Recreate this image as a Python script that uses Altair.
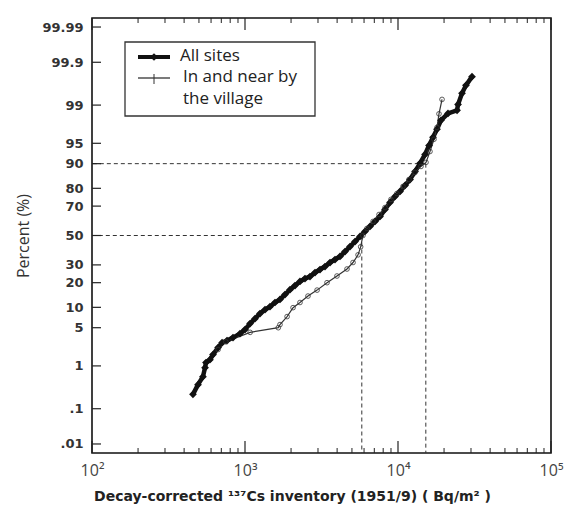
import altair as alt
import pandas as pd
from statistics import NormalDist

nd = NormalDist()

# ---- data ----
all_x = [457, 493, 531, 548, 556, 590, 618, 667, 708, 763, 835, 927, 1000, 1079, 1162,
         1253, 1351, 1456, 1570, 1693, 1825, 1968, 2122, 2287, 2466, 2659, 2868, 3092,
         3334, 3594, 3875, 4178, 4505, 4857, 5237, 5646, 6088, 6563, 7077, 7630, 8226,
         8869, 9563, 10310, 11117, 11986, 12923, 13933, 15022, 15950, 16935, 17983,
         19094, 21218, 24316, 24681, 26200, 27800, 30460]
all_p = [0.23, 0.39, 0.59, 0.92, 1.17, 1.34, 1.68, 2.28, 2.8, 3.04, 3.43, 4.0, 4.66, 5.8,
         6.9, 8.2, 9.3, 10.2, 11.6, 12.7, 14.6, 16.7, 18.6, 20.6, 22.1, 23.2, 25.4, 27.2,
         29.0, 31.5, 33.4, 35.4, 38.7, 42.2, 45.7, 49.3, 52.9, 56.4, 59.9, 63.3, 67.9,
         72.2, 75.7, 78.4, 81.4, 84.1, 87.3, 90.1, 92.6, 94.6, 96.0, 97.1, 98.0, 98.53,
         98.72, 99.03, 99.44, 99.63, 99.77]

vil_x = [667, 750, 1080, 1650, 1693, 1884, 2061, 2287, 2580, 2958, 3436, 3991, 4641,
         5082, 5483, 5700, 5900, 6270, 6870, 7520, 8226, 8995, 9840, 10780, 11800, 12920,
         14130, 15240, 16180, 17180, 17980, 18530, 19400]
vil_p = [2.1, 2.9, 4.2, 5.0, 5.6, 7.4, 9.9, 11.6, 14.0, 16.5, 20.0, 23.5, 27.5, 31.5,
         36.5, 42.0, 50.0, 55.0, 59.9, 64.6, 69.1, 74.0, 77.3, 80.9, 84.1, 87.0, 89.1,
         90.4, 93.3, 95.7, 97.3, 98.5, 99.24]

series_names = ["All sites", "In and near by the village"]
legend_lines = ["All sites", "In and near by", "the village"]

y_tick_pct = [0.01, 0.1, 1, 5, 10, 20, 30, 50, 70, 80, 90, 95, 99, 99.9, 99.99]
y_tick_labels = [".01", ".1", "1", "5", "10", "20", "30", "50", "70", "80", "90", "95",
                 "99", "99.9", "99.99"]
x_tick_vals = [100, 1000, 10000, 100000]
x_tick_labels = ["10\u00b2", "10\u00b3", "10\u2074", "10\u2075"]
x_minor_vals = [m * d for d in (100, 1000, 10000) for m in range(2, 10)]

ref_x = [5800, 15200]
ref_p = [50, 90]

# ---- layout ----
W, H = 459, 435
Y_DOM = [-3.88, 3.88]


def probit(p):
    return nd.inv_cdf(p / 100.0)


df = pd.DataFrame(
    [{"x": x, "p": p, "z": probit(p), "series": series_names[0]} for x, p in zip(all_x, all_p)]
    + [{"x": x, "p": p, "z": probit(p), "series": series_names[1]} for x, p in zip(vil_x, vil_p)]
)

xs = alt.Scale(type="log", domain=[100, 100000], nice=False)
ys = alt.Scale(domain=Y_DOM, nice=False, zero=False)

ylab = "''"
for z, lab in zip([probit(p) for p in y_tick_pct], y_tick_labels):
    ylab = f"abs(datum.value - ({z:.6f})) < 0.001 ? '{lab}' : ({ylab})"
xlab = "''"
for v, lab in zip(x_tick_vals, x_tick_labels):
    xlab = f"datum.value == {v} ? '{lab}' : ({xlab})"

x_axis = alt.Axis(values=x_tick_vals, labelExpr=xlab, ticks=False, domain=False, grid=False,
                  labelFont="Open Sans", labelFontSize=16, labelColor="#444", labelPadding=9,
                  labelFlush=False, labelOverlap=False,
                  title="Decay-corrected \u00b9\u00b3\u2077Cs inventory (1951/9) ( Bq/m\u00b2 )",
                  titleFont="DejaVu Sans", titleFontWeight="bold", titleFontSize=14,
                  titleColor="#222", titleX=200, titleY=36)
y_axis = alt.Axis(values=[probit(p) for p in y_tick_pct], labelExpr=ylab, ticks=False,
                  domain=False, grid=False, labelFont="DejaVu Sans", labelFontWeight="bold",
                  labelFontSize=13, labelColor="#333", labelPadding=9, labelOverlap=False,
                  labelBound=False, labelFlush=False,
                  title="Percent (%)", titleFont="Open Sans", titleFontWeight="normal",
                  titleFontSize=16, titleColor="#333", titlePadding=10)

XN = alt.X("x:Q", scale=xs, axis=x_axis, title=x_axis.title)
YN = alt.Y("z:Q", scale=ys, axis=y_axis, title=y_axis.title)

lines = alt.Chart(df).mark_line().encode(
    x=XN,
    y=YN,
    order="x:Q",
    color=alt.Color("series:N", scale=alt.Scale(domain=series_names, range=["#111", "#333"]),
                    legend=None),
    strokeWidth=alt.StrokeWidth("series:N", scale=alt.Scale(domain=series_names, range=[4.5, 1.2]),
                                legend=None),
)

pts_all = alt.Chart(df[df.series == series_names[0]]).mark_point(
    shape="diamond", filled=True, color="#111", size=60, opacity=1
).encode(x=XN, y=YN)

pts_vil = alt.Chart(df[df.series == series_names[1]]).mark_point(
    shape="circle", filled=False, color="#333", size=22, strokeWidth=0.8, opacity=1
).encode(x=XN, y=YN)

refdf = pd.DataFrame({"x": ref_x, "z": [probit(p) for p in ref_p]})
ref_h = alt.Chart(refdf).mark_rule(strokeDash=[4, 3], color="#333", strokeWidth=1).encode(
    x=XN, x2=alt.value(0), y=YN)
ref_v = alt.Chart(refdf).mark_rule(strokeDash=[4, 3], color="#333", strokeWidth=1).encode(
    x=XN, y=YN, y2=alt.value(H))

ytdf = pd.DataFrame({"z": [probit(p) for p in y_tick_pct]})
yticks = alt.Chart(ytdf).mark_rule(color="#222", strokeWidth=1.2).encode(
    y=YN, x=alt.value(0), x2=alt.value(9))

xmaj = pd.DataFrame({"x": x_tick_vals})
xmin = pd.DataFrame({"x": x_minor_vals})
xt_b_maj = alt.Chart(xmaj).mark_rule(color="#222", strokeWidth=1.2).encode(
    x=XN, y=alt.value(H), y2=alt.value(H - 12))
xt_b_min = alt.Chart(xmin).mark_rule(color="#222", strokeWidth=1).encode(
    x=XN, y=alt.value(H), y2=alt.value(H - 5))
xt_t_maj = alt.Chart(xmaj).mark_rule(color="#222", strokeWidth=1.2).encode(
    x=XN, y=alt.value(0), y2=alt.value(12))
xt_t_min = alt.Chart(xmin).mark_rule(color="#222", strokeWidth=1).encode(
    x=XN, y=alt.value(0), y2=alt.value(5))

# ---- hand-built legend box (pixel placement inside the plot area) ----
legdf = pd.DataFrame({"label": legend_lines})
FS = 17
leg_box = alt.Chart(legdf.head(1)).mark_rect(fill="white", stroke="#333", strokeWidth=1.3).encode(
    x=alt.value(33), x2=alt.value(223), y=alt.value(24), y2=alt.value(98))
leg_l1 = alt.Chart(legdf.head(1)).mark_rule(color="#111", strokeWidth=4).encode(
    x=alt.value(46), x2=alt.value(78), y=alt.value(39))
leg_m1 = alt.Chart(legdf.head(1)).mark_point(shape="diamond", filled=True, color="#111",
                                             size=60, opacity=1).encode(
    x=alt.value(62), y=alt.value(39))
leg_l2 = alt.Chart(legdf.head(1)).mark_rule(color="#333", strokeWidth=1.3).encode(
    x=alt.value(46), x2=alt.value(78), y=alt.value(60))
leg_m2 = alt.Chart(legdf.head(1)).mark_rule(color="#333", strokeWidth=1).encode(
    x=alt.value(62), y=alt.value(56), y2=alt.value(66))
leg_t1 = alt.Chart(legdf.iloc[[0]]).mark_text(align="left", baseline="middle", font="Open Sans",
                                              fontSize=FS, color="#222").encode(
    text="label:N", x=alt.value(88), y=alt.value(38))
leg_t2 = alt.Chart(legdf.iloc[[1]]).mark_text(align="left", baseline="middle", font="Open Sans",
                                              fontSize=FS, color="#222").encode(
    text="label:N", x=alt.value(91), y=alt.value(59))
leg_t3 = alt.Chart(legdf.iloc[[2]]).mark_text(align="left", baseline="middle", font="Open Sans",
                                              fontSize=FS, color="#222").encode(
    text="label:N", x=alt.value(91), y=alt.value(81))

chart = alt.layer(
    lines, ref_h, ref_v, yticks, xt_b_maj, xt_b_min, xt_t_maj, xt_t_min, pts_all, pts_vil,
    leg_box, leg_l1, leg_m1, leg_l2, leg_m2, leg_t1, leg_t2, leg_t3
).properties(
    width=W, height=H,
    autosize=alt.AutoSizeParams(type="none"),
    padding={"left": 92, "top": 18, "right": 18, "bottom": 59},
    background="white",
).configure_view(stroke="#111", strokeWidth=1.6).configure_axis(labelOverlap=False)

chart.save("out.html", embed_options={"renderer": "svg", "actions": False})
